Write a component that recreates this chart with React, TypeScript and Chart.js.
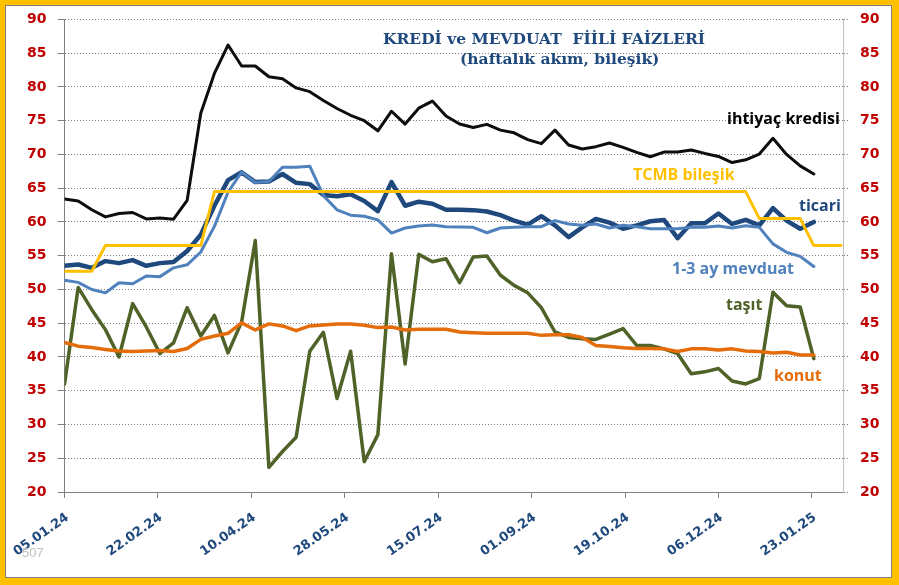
import React, { useEffect, useRef } from 'react';
import { Chart, registerables } from 'chart.js';

Chart.register(...registerables);

// ---- data (weekly observations starting 05.01.2024) ----
const tickLabels = ['05.01.24', '22.02.24', '10.04.24', '28.05.24', '15.07.24', '01.09.24', '19.10.24', '06.12.24', '23.01.25'];

const ihtiyac = [63.4, 63.1, 61.8, 60.75, 61.25, 61.4, 60.45, 60.6, 60.4, 63.2, 76.1, 82.0, 86.2, 83.1, 83.1, 81.5, 81.2, 79.85, 79.3, 78.0, 76.8, 75.8, 75.0, 73.5, 76.4, 74.5, 76.85, 77.9, 75.7, 74.5, 74.0, 74.45, 73.6, 73.2, 72.2, 71.6, 73.6, 71.4, 70.8, 71.15, 71.7, 71.05, 70.3, 69.65, 70.35, 70.35, 70.65, 70.15, 69.7, 68.8, 69.2, 70.05, 72.4, 70.0, 68.3, 67.1];

const ticari = [53.5, 53.7, 53.2, 54.2, 53.9, 54.35, 53.5, 53.9, 54.05, 55.7, 58.1, 62.4, 66.2, 67.35, 65.9, 66.0, 67.1, 65.8, 65.6, 64.0, 63.8, 64.1, 63.1, 61.6, 65.9, 62.4, 63.0, 62.7, 61.8, 61.8, 61.75, 61.55, 61.0, 60.2, 59.6, 60.85, 59.5, 57.75, 59.2, 60.45, 59.9, 59.0, 59.5, 60.1, 60.3, 57.6, 59.8, 59.8, 61.25, 59.7, 60.3, 59.5, 62.05, 60.2, 59.0, 60.0];

const mevduat = [51.35, 51.05, 50.0, 49.5, 51.0, 50.85, 52.0, 51.9, 53.2, 53.65, 55.55, 59.35, 64.4, 67.4, 65.85, 66.0, 68.1, 68.1, 68.25, 63.9, 61.8, 61.0, 60.85, 60.3, 58.35, 59.1, 59.4, 59.55, 59.3, 59.25, 59.2, 58.4, 59.1, 59.2, 59.3, 59.3, 60.2, 59.7, 59.5, 59.7, 59.1, 59.5, 59.3, 59.0, 59.0, 59.0, 59.2, 59.2, 59.4, 59.1, 59.45, 59.2, 56.75, 55.5, 54.9, 53.4];

const tcmb = [52.7, 52.7, 52.7, 56.5, 56.5, 56.5, 56.5, 56.5, 56.5, 56.5, 56.5, 64.5, 64.5, 64.5, 64.5, 64.5, 64.5, 64.5, 64.5, 64.5, 64.5, 64.5, 64.5, 64.5, 64.5, 64.5, 64.5, 64.5, 64.5, 64.5, 64.5, 64.5, 64.5, 64.5, 64.5, 64.5, 64.5, 64.5, 64.5, 64.5, 64.5, 64.5, 64.5, 64.5, 64.5, 64.5, 64.5, 64.5, 64.5, 64.5, 64.5, 60.5, 60.5, 60.5, 60.5, 56.5, 56.5, 56.5];

const tasit = [36.0, 50.3, 47.0, 44.05, 40.0, 47.9, 44.45, 40.5, 42.1, 47.3, 43.1, 46.15, 40.6, 45.2, 57.25, 23.65, 26.0, 28.1, 40.85, 43.65, 33.85, 40.85, 24.5, 28.5, 55.3, 38.95, 55.2, 54.1, 54.55, 51.0, 54.8, 54.95, 52.1, 50.6, 49.5, 47.3, 43.7, 42.9, 42.7, 42.6, 43.4, 44.2, 41.7, 41.7, 41.2, 40.5, 37.5, 37.8, 38.3, 36.45, 36.0, 36.8, 49.6, 47.6, 47.4, 39.75];

const konut = [42.15, 41.6, 41.4, 41.1, 40.9, 40.8, 40.9, 40.95, 40.8, 41.25, 42.6, 43.1, 43.5, 45.05, 44.0, 44.9, 44.6, 43.9, 44.6, 44.75, 44.9, 44.9, 44.7, 44.35, 44.45, 44.0, 44.1, 44.1, 44.1, 43.7, 43.6, 43.5, 43.5, 43.5, 43.5, 43.2, 43.3, 43.3, 42.9, 41.7, 41.55, 41.35, 41.25, 41.25, 41.2, 40.8, 41.2, 41.2, 41.05, 41.2, 40.9, 40.8, 40.6, 40.7, 40.3, 40.3];

const yTicks = [20, 25, 30, 35, 40, 45, 50, 55, 60, 65, 70, 75, 80, 85, 90];

// ---- helpers ----
const START_UTC = Date.UTC(2024, 0, 5);
const dayOf = (label: string) => {
  const [d, m, y] = label.split('.').map(Number);
  return Math.round((Date.UTC(2000 + y, m - 1, d) - START_UTC) / 86400000);
};
const weekly = (vals: number[]) => vals.map((v, i) => ({ x: i * 7, y: v }));

export default function App() {
  const ref = useRef<HTMLCanvasElement | null>(null);

  useEffect(() => {
    if (!ref.current) return;
    const tickDays = tickLabels.map(dayOf);
    const line = (label: string, data: number[], color: string, width: number, order: number) => ({
      label,
      data: weekly(data),
      borderColor: color,
      backgroundColor: color,
      borderWidth: width,
      pointRadius: 0,
      tension: 0,
      borderJoinStyle: 'round',
      borderCapStyle: 'round',
      fill: false,
      order,
    });
    const chart = new Chart(ref.current, {
      type: 'line',
      data: {
        datasets: [
          line('ihtiyaç kredisi', ihtiyac, '#0d0d0d', 3, 0),
          line('TCMB bileşik', tcmb, '#FFC000', 3, 1),
          line('1-3 ay mevduat', mevduat, '#4F81BD', 3, 2),
          line('ticari', ticari, '#1F497D', 4.5, 3),
          line('konut', konut, '#E46C0A', 3.5, 4),
          line('taşıt', tasit, '#4F6228', 3.5, 5),
        ] as any,
      },
      options: {
        animation: false,
        responsive: false,
        events: [],
        layout: { padding: { left: 0, right: 0, top: 18, bottom: 0 } },
        plugins: { legend: { display: false }, tooltip: { enabled: false }, title: { display: false } },
        scales: {
          x: {
            type: 'linear',
            min: 0,
            max: 400,
            afterFit: (s: any) => { s.height = 93; },
            afterBuildTicks: (s: any) => { s.ticks = tickDays.map((v) => ({ value: v })); },
            grid: { drawOnChartArea: false, drawTicks: true, tickLength: 6, color: '#808080', lineWidth: 1 },
            border: { display: true, color: '#808080', width: 1 },
            ticks: {
              autoSkip: false,
              minRotation: 35,
              maxRotation: 35,
              padding: 12,
              labelOffset: 3,
              color: '#1F497D',
              font: { family: 'DejaVu Sans', weight: 'bold', size: 13 },
              callback: (_v: any, i: number) => tickLabels[i],
            },
          },
          y: {
            position: 'left',
            min: 20,
            max: 90,
            afterFit: (s: any) => { s.width = 64; },
            afterBuildTicks: (s: any) => { s.ticks = yTicks.map((v) => ({ value: v })); },
            grid: { drawOnChartArea: true, drawTicks: true, tickLength: 7, color: '#7f7f7f', lineWidth: 1, tickColor: '#808080', tickBorderDash: [] },
            border: { display: true, color: '#808080', width: 1, dash: [1, 2] },
            ticks: {
              padding: 11,
              color: '#C00000',
              font: { family: 'DejaVu Sans', weight: 'bold', size: 14 },
              callback: (v: any) => String(v),
            },
          },
          y2: {
            position: 'right',
            min: 20,
            max: 90,
            afterFit: (s: any) => { s.width = 56; },
            afterBuildTicks: (s: any) => { s.ticks = yTicks.map((v) => ({ value: v })); },
            grid: { drawOnChartArea: false, drawTicks: true, tickLength: 6, color: '#7f7f7f', lineWidth: 1, tickBorderDash: [1, 2] },
            border: { display: true, color: '#BFBFBF', width: 1 },
            ticks: {
              padding: 11,
              color: '#C00000',
              font: { family: 'DejaVu Sans', weight: 'bold', size: 14 },
              callback: (v: any) => String(v),
            },
          },
        },
      } as any,
    });
    return () => chart.destroy();
  }, []);

  const ann = (text: string, color: string, left: number, top: number) => (
    <div
      style={{
        position: 'absolute',
        left,
        top,
        color,
        font: 'bold 16px "Open Sans", sans-serif',
        lineHeight: '16px',
        whiteSpace: 'nowrap',
      }}
    >
      {text}
    </div>
  );

  return (
    <div style={{ position: 'absolute', left: 0, top: 0, width: 899, height: 585, background: '#FFC000', overflow: 'hidden' }}>
      <div
        style={{
          position: 'absolute',
          left: 5,
          top: 5,
          width: 885,
          height: 571,
          background: '#ffffff',
          border: '1px solid #7f7f7f',
        }}
      />
      <canvas ref={ref} width={899} height={585} style={{ position: 'absolute', left: 0, top: 0, width: 899, height: 585 }} />
      <div
        style={{
          position: 'absolute',
          left: 383,
          top: 29,
          color: '#1F497D',
          font: 'bold 15.5px "DejaVu Serif", serif',
          lineHeight: '20px',
          whiteSpace: 'pre',
        }}
      >
        {'KREDİ ve MEVDUAT  FİİLİ FAİZLERİ'}
      </div>
      <div
        style={{
          position: 'absolute',
          left: 460,
          top: 49,
          color: '#1F497D',
          font: 'bold 15.5px "DejaVu Serif", serif',
          lineHeight: '20px',
          whiteSpace: 'pre',
        }}
      >
        {'(haftalık akım, bileşik)'}
      </div>
      {ann('ihtiyaç kredisi', '#000000', 727, 110)}
      {ann('TCMB bileşik', '#FFC000', 633, 166)}
      {ann('ticari', '#1F497D', 799, 197)}
      {ann('1-3 ay mevduat', '#4F81BD', 672, 260)}
      {ann('taşıt', '#4F6228', 726, 296)}
      {ann('konut', '#E46C0A', 774, 367)}
      <div
        style={{
          position: 'absolute',
          left: 22,
          top: 546,
          color: '#BFBFBF',
          font: '13px "Liberation Sans", sans-serif',
          lineHeight: '14px',
        }}
      >
        507
      </div>
    </div>
  );
}
